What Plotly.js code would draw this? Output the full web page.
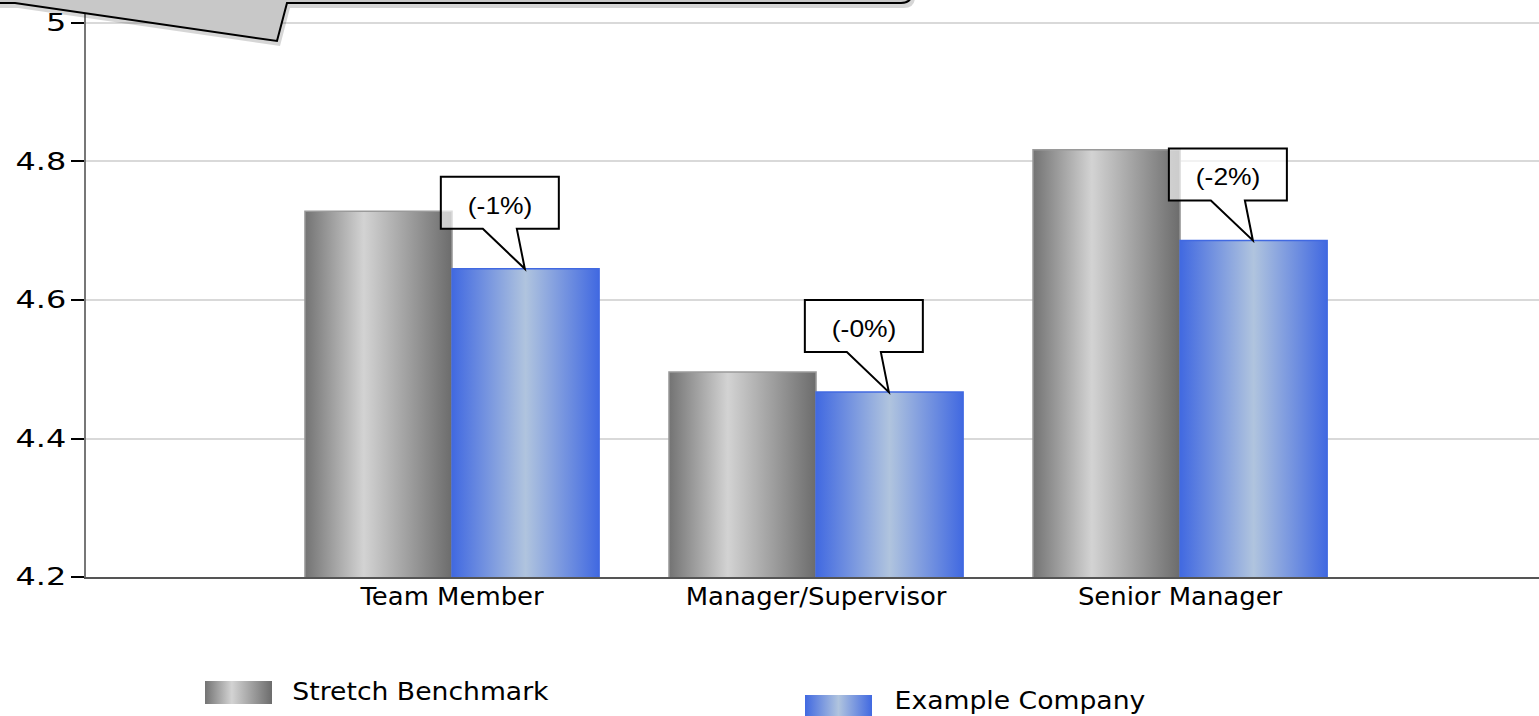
<!DOCTYPE html>
<html><head><meta charset="utf-8">
<script src="https://cdn.plot.ly/plotly-3.0.1.min.js"></script>
<style>html,body{margin:0;padding:0;background:#fff;overflow:hidden}#chart{width:1539px;height:716px}</style>
</head><body><div id="chart"></div>
<script>
// ---- data ----
const categories = ['Team Member', 'Manager/Supervisor', 'Senior Manager'];
const seriesNames = ['Stretch Benchmark', 'Example Company'];
const benchmarkValues = [4.728, 4.496, 4.817];
const companyValues = [4.645, 4.467, 4.686];
const diffLabels = ['(-1%)', '(-0%)', '(-2%)'];
const yTickVals = [4.2, 4.4, 4.6, 4.8, 5];
const yTickText = ['4.2', '4.4', '4.6', '4.8', '5'];

// ---- layout helpers (pixel -> paper) ----
const W = 1539, H = 716, M = {l: 86, r: 0, t: 0, b: 139};
const PW = W - M.l - M.r, PH = H - M.t - M.b;
const px = x => (x - M.l) / PW;
const py = y => (H - M.b - y) / PH;
function pathFromPx(cmds) {
  return cmds.map(c => {
    const nums = c.slice(1);
    const pts = [];
    for (let k = 0; k < nums.length; k += 2) pts.push(px(nums[k]).toFixed(5) + ',' + py(nums[k + 1]).toFixed(5));
    return c[0] + pts.join(' ');
  }).join(' ') + ' Z';
}
const GRAY_KEY = 'rgb(160, 160, 160)', BLUE_KEY = 'rgb(110, 140, 225)';

const traces = [
  {type: 'bar', name: seriesNames[0], x: categories, y: benchmarkValues,
   marker: {color: GRAY_KEY, line: {color: '#9a9a9a', width: 1.5}}, hoverinfo: 'y'},
  {type: 'bar', name: seriesNames[1], x: categories, y: companyValues,
   marker: {color: BLUE_KEY, line: {color: '#4169e1', width: 1.5}}, hoverinfo: 'y'}
];

const shapes = [];
const annotations = [];

// top-left grey callout (decoration), shadow first
const topCallout = [['M', -40, -90], ['L', 912, -90], ['L', 912, -8], ['Q', 912, 3, 901, 3], ['L', 287, 3], ['L', 277, 41], ['L', 15, 3], ['L', -40, 3]];
const shadowCallout = topCallout.map(c => [c[0]].concat(c.slice(1).map((v, k) => v + (k % 2 ? 5 : 3))));
shapes.push({type: 'path', xref: 'paper', yref: 'paper', layer: 'above', path: pathFromPx(shadowCallout),
  fillcolor: 'rgba(0,0,0,0.16)', line: {width: 0}});
shapes.push({type: 'path', xref: 'paper', yref: 'paper', layer: 'above', path: pathFromPx(topCallout),
  fillcolor: '#c8c8c8', line: {color: '#000', width: 2}});

// difference callouts anchored to the company bars
categories.forEach((c, i) => {
  shapes.push({type: 'path', xref: 'x', yref: 'y', xsizemode: 'pixel', ysizemode: 'pixel',
    xanchor: i + 0.2, yanchor: companyValues[i], layer: 'above',
    path: 'M-84,40 L-84,92 L34,92 L34,40 L-8,40 L0,0 L-42,40 Z',
    fillcolor: 'rgba(255,255,255,0.65)', line: {color: '#000', width: 2}});
  annotations.push({xref: 'x', yref: 'y', x: i + 0.2, y: companyValues[i], xshift: -25, yshift: 63,
    showarrow: false, text: diffLabels[i], xanchor: 'center', yanchor: 'middle',
    font: {family: 'Liberation Sans, Arial, sans-serif', size: 23, color: '#000'}});
});

// custom legend
const legendItems = [
  {sw: [205, 681, 272, 704], tx: 420, ty: 692, key: GRAY_KEY},
  {sw: [805, 695, 872, 718], tx: 1020, ty: 701, key: BLUE_KEY}
];
legendItems.forEach((it, i) => {
  shapes.push({type: 'rect', xref: 'paper', yref: 'paper', layer: 'above',
    x0: px(it.sw[0]), x1: px(it.sw[2]), y0: py(it.sw[3]), y1: py(it.sw[1]),
    fillcolor: it.key, line: {width: 0}});
  annotations.push({xref: 'paper', yref: 'paper', x: px(it.tx), y: py(it.ty), xanchor: 'center', yanchor: 'middle',
    showarrow: false, text: seriesNames[i], font: {family: 'DejaVu Sans, Verdana, sans-serif', size: 24, color: '#000'}});
});

const layout = {
  width: W, height: H, margin: M,
  paper_bgcolor: '#fff', plot_bgcolor: '#fff',
  showlegend: false, barmode: 'group', bargap: 0.192, bargroupgap: 0,
  font: {family: 'DejaVu Sans, Verdana, sans-serif', color: '#000'},
  xaxis: {type: 'category', range: [-1.0055, 2.986], showgrid: false, zeroline: false,
    showline: true, linecolor: '#555', linewidth: 2, ticks: '', ticklen: 0, ticklabelstandoff: -3,
    tickfont: {size: 24, color: '#000'}, fixedrange: true},
  yaxis: {range: [4.2, 5.0332], tickvals: yTickVals, ticktext: yTickText,
    showgrid: true, gridcolor: '#d9d9d9', gridwidth: 2, zeroline: false,
    showline: true, linecolor: '#777', linewidth: 2,
    ticks: 'outside', ticklen: 13, tickwidth: 2, tickcolor: '#000',
    tickfont: {size: 24, color: '#000'}, fixedrange: true},
  shapes: shapes, annotations: annotations
};

function addGrad(defs, id, stops) {
  const ns = 'http://www.w3.org/2000/svg';
  const g = document.createElementNS(ns, 'linearGradient');
  g.setAttribute('id', id); g.setAttribute('x1', '0'); g.setAttribute('y1', '0');
  g.setAttribute('x2', '1'); g.setAttribute('y2', '0');
  stops.forEach(s => {
    const st = document.createElementNS(ns, 'stop');
    st.setAttribute('offset', s[0]); st.setAttribute('stop-color', s[1]);
    g.appendChild(st);
  });
  defs.appendChild(g);
}
function stretchText(el, sx) {
  if (!el) return;
  if (!el.hasAttribute('data-orig-tf')) el.setAttribute('data-orig-tf', el.getAttribute('transform') || '');
  const x = parseFloat(el.getAttribute('x')) || 0;
  const y = parseFloat(el.getAttribute('y')) || 0;
  el.setAttribute('transform', el.getAttribute('data-orig-tf') + ' translate(' + x + ',' + y + ') scale(' + sx + ',1) translate(' + (-x) + ',' + (-y) + ')');
}
function applyStyling() {
  const gd = document.getElementById('chart');
  const svg = gd.querySelector('svg.main-svg');
  if (!svg) return;
  let defs = svg.querySelector('defs');
  if (!defs) { defs = document.createElementNS('http://www.w3.org/2000/svg', 'defs'); svg.insertBefore(defs, svg.firstChild); }
  if (!document.getElementById('gGray')) {
    addGrad(defs, 'gGray', [[0, '#737373'], [0.4, '#d3d3d3'], [1, '#6c6c6c']]);
    addGrad(defs, 'gBlue', [[0, '#4169e1'], [0.5, '#b0c4de'], [1, '#4169e1']]);
  }
  gd.querySelectorAll('.barlayer .trace').forEach((t, i) => {
    t.querySelectorAll('path').forEach(p => { p.style.fill = i === 0 ? 'url(#gGray)' : 'url(#gBlue)'; });
  });
  gd.querySelectorAll('.shapelayer path').forEach(p => {
    const f = p.style.fill;
    if (f === GRAY_KEY) p.style.fill = 'url(#gGray)';
    else if (f === BLUE_KEY) p.style.fill = 'url(#gBlue)';
  });
  // horizontally widened lettering as in the reference
  gd.querySelectorAll('.ytick text').forEach(t => stretchText(t, 1.33));
  gd.querySelectorAll('.xtick text').forEach(t => stretchText(t, 1.08));
  gd.querySelectorAll('.annotation').forEach(a => {
    const idx = parseInt(a.getAttribute('data-index'), 10);
    const t = a.querySelector('text.annotation-text') || a.querySelector('text');
    stretchText(t, idx < categories.length ? 1.15 : 1.11);
  });
}

Plotly.newPlot('chart', traces, layout, {displayModeBar: false, staticPlot: true}).then(gd => {
  applyStyling();
  gd.on && gd.on('plotly_afterplot', applyStyling);
});
</script></body></html>
